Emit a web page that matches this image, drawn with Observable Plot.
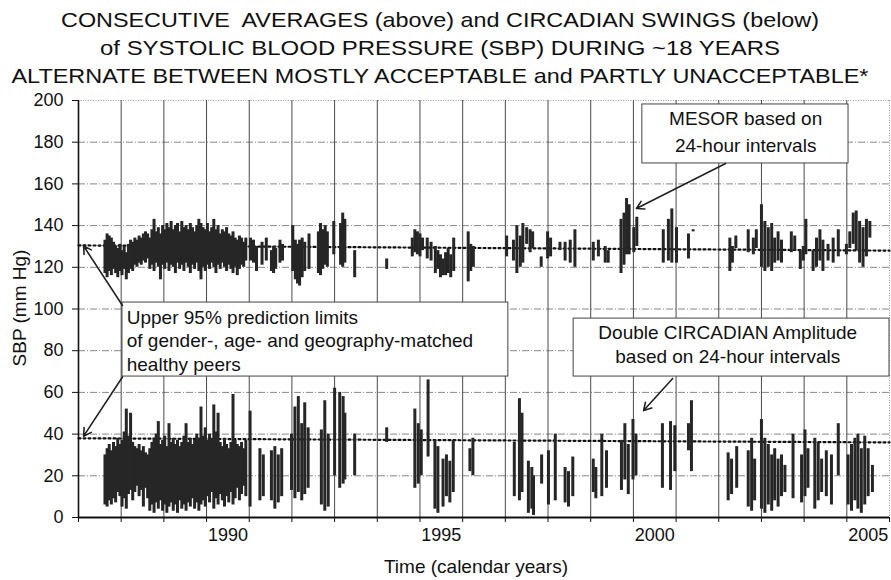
<!DOCTYPE html>
<html><head><meta charset="utf-8">
<script src="https://cdn.jsdelivr.net/npm/d3@7"></script>
<script src="https://cdn.jsdelivr.net/npm/@observablehq/plot@0.6"></script>
<style>body{margin:0;background:#fff;} svg{display:block;}</style>
</head><body><div id="chart"></div>
<script>
// ---------------- DATA ----------------
const titleLines = [
  "CONSECUTIVE  AVERAGES (above) and CIRCADIAN SWINGS (below)",
  "of SYSTOLIC BLOOD PRESSURE (SBP) DURING ~18 YEARS",
  "ALTERNATE BETWEEN MOSTLY ACCEPTABLE and PARTLY UNACCEPTABLE*"
];
const yLabel = "SBP (mm Hg)";
const xLabel = "Time (calendar years)";
const yTicks = [0, 20, 40, 60, 80, 100, 120, 140, 160, 180, 200];
const yearTicks = d3.range(1987, 2007);
const yearLabels = [1990, 1995, 2000, 2005];

// Upper 95% prediction limits (start / end of record)
const limitMesor = [[1987, 130.5], [2006, 128]];
const limitAmp = [[1987, 38], [2006, 36]];

// MESOR (24-h) : [year, low, high]
const mesor = [
 [1987.62,117,133],[1987.67,115,136],[1987.72,118,135],[1987.77,116,134],[1987.82,119,132],
 [1987.87,117,130],[1987.92,115,129],[1987.97,118,131],[1988.02,116,128],[1988.07,119,130],
 [1988.12,114,127],[1988.17,117,131],[1988.22,119,133],[1988.27,118,132],[1988.32,121,134],
 [1988.37,120,133],[1988.42,122,135],[1988.47,121,134],[1988.52,123,136],[1988.57,122,137],
 [1988.62,124,136],[1988.67,119,134],[1988.72,121,138],[1988.77,118,143],[1988.82,122,137],
 [1988.87,120,139],[1988.92,114,136],[1988.97,121,140],[1989.02,119,138],[1989.07,122,141],
 [1989.12,118,139],[1989.17,121,142],[1989.22,120,138],[1989.27,117,140],[1989.32,122,141],
 [1989.37,119,137],[1989.42,121,142],[1989.47,118,139],[1989.52,122,140],[1989.57,120,138],
 [1989.62,117,141],[1989.67,121,139],[1989.72,119,137],[1989.77,122,140],[1989.82,118,143],
 [1989.87,114,141],[1989.92,120,139],[1989.97,118,138],[1990.02,121,141],[1990.07,119,137],
 [1990.12,122,139],[1990.17,120,143],[1990.22,117,138],[1990.27,121,140],[1990.32,119,136],
 [1990.37,122,138],[1990.42,120,137],[1990.47,118,139],[1990.52,121,136],[1990.57,119,135],
 [1990.62,117,137],[1990.67,120,134],[1990.72,116,133],[1990.77,119,135],[1990.82,121,134],
 [1990.87,120,132],[1990.92,123,134],
 [1991.03,123,134],[1991.10,122,133],[1991.17,118,130],[1991.30,121,132],[1991.40,123,134],
 [1991.52,118,128],[1991.57,117,130],[1991.62,119,129],[1991.72,122,133],[1991.78,123,131],
 [1992.02,118,140],[1992.08,114,133],[1992.13,112,131],[1992.18,111,133],[1992.24,115,134],
 [1992.30,118,132],[1992.40,119,136],[1992.62,117,137],[1992.67,116,141],[1992.72,119,138],
 [1992.78,121,140],[1992.83,120,137],[1992.98,126,142],[1993.14,121,141],[1993.19,120,146],
 [1993.24,122,143],[1993.47,115,128],[1994.22,119,124],
 [1994.82,125,134],[1994.88,127,138],[1994.94,126,137],[1995.00,125,136],[1995.06,128,134],
 [1995.17,124,134],[1995.26,123,132],[1995.36,117,130],[1995.42,119,128],[1995.48,115,126],
 [1995.54,116,124],[1995.60,116,127],[1995.66,117,129],[1995.72,115,126],[1995.79,118,134],
 [1996.13,113,137],[1996.19,118,131],[1996.25,120,130],
 [1997.03,125,135],[1997.19,123,133],[1997.27,117,140],[1997.35,120,135],[1997.41,122,141],
 [1997.50,131,139],[1997.58,127,138],[1997.64,129,137],[1997.84,120,125],[1997.99,124,137],
 [1998.06,125,134],[1998.28,128,132],[1998.40,123,132],[1998.52,122,133],[1998.63,120,138],
 [1999.06,123,132],[1999.18,125,133],[1999.34,122,130],[1999.41,122,128],
 [1999.71,117,143],[1999.78,121,146],[1999.84,126,153],[1999.90,126,150],[2000.01,127,139],
 [2000.08,130,144],[2000.70,122,138],[2000.82,123,143],[2000.90,122,148],[2001.01,122,139],
 [2001.29,124,136],[2001.40,137,138],
 [2002.26,118,134],[2002.32,122,130],[2002.40,129,135],[2002.69,127,138],[2002.81,126,134],
 [2002.88,129,138],[2003.00,120,150],[2003.08,118,142],[2003.16,120,139],[2003.24,118,141],
 [2003.31,122,134],[2003.39,123,137],[2003.47,122,133],[2003.70,127,137],[2003.78,128,135],
 [2003.91,119,128],[2003.98,123,130],[2004.04,126,143],[2004.21,118,128],[2004.29,120,134],
 [2004.37,123,138],[2004.44,118,133],[2004.56,123,131],[2004.68,122,134],[2004.80,125,138],
 [2004.99,126,131],[2005.07,129,137],[2005.15,131,146],[2005.22,128,147],[2005.30,122,142],
 [2005.38,120,139],[2005.46,125,143],[2005.54,134,142]
];

// Double circadian amplitude (24-h) : [year, low, high]
const amplitude = [
 [1987.62,6,30],[1987.67,5,33],[1987.72,8,35],[1987.77,6,32],[1987.82,9,36],[1987.87,7,34],
 [1987.92,12,38],[1987.97,10,35],[1988.02,5,37],[1988.07,9,41],[1988.12,4,52],[1988.17,11,39],
 [1988.22,13,50],[1988.27,8,36],[1988.32,12,34],[1988.37,15,33],[1988.42,10,35],[1988.47,13,32],
 [1988.52,5,34],[1988.57,14,31],[1988.62,9,30],[1988.67,3,33],[1988.72,6,36],[1988.77,2,38],
 [1988.82,7,40],[1988.87,4,46],[1988.92,8,35],[1988.97,3,37],[1989.02,6,39],[1989.07,2,34],
 [1989.12,5,45],[1989.17,7,36],[1989.22,3,38],[1989.27,6,35],[1989.32,2,37],[1989.37,8,34],
 [1989.42,4,36],[1989.47,6,39],[1989.52,3,45],[1989.57,7,36],[1989.62,5,38],[1989.67,9,35],
 [1989.72,4,37],[1989.77,7,40],[1989.82,3,38],[1989.87,6,53],[1989.92,8,39],[1989.97,5,43],
 [1990.02,10,37],[1990.07,7,40],[1990.12,12,38],[1990.17,4,54],[1990.22,9,41],[1990.27,6,50],
 [1990.32,11,36],[1990.37,8,34],[1990.42,5,38],[1990.47,10,35],[1990.52,7,33],[1990.57,12,36],
 [1990.62,6,59],[1990.67,9,37],[1990.72,14,35],[1990.77,8,34],[1990.82,11,36],[1990.87,15,33],
 [1990.92,10,37],
 [1991.02,5,51],[1991.25,8,33],[1991.33,10,30],[1991.52,8,32],[1991.60,4,34],[1991.68,7,30],
 [1991.76,10,33],[1991.99,13,40],[1992.07,9,53],[1992.15,12,58],[1992.23,8,45],[1992.30,11,55],
 [1992.38,14,43],[1992.69,6,42],[1992.77,3,56],[1992.85,5,40],[1993.00,20,62],[1993.12,14,60],
 [1993.20,16,58],[1993.24,18,50],[1993.47,20,40],[1994.22,36,43],
 [1994.88,14,52],[1994.96,16,45],[1995.03,20,42],[1995.19,29,66],[1995.35,4,37],[1995.42,2,34],
 [1995.54,5,28],[1995.62,10,30],[1995.70,7,27],[1995.78,12,37],[1996.17,22,33],[1996.24,20,38],
 [1997.21,10,36],[1997.33,8,57],[1997.39,12,50],[1997.54,2,27],[1997.62,4,24],[1997.66,1,20],
 [1997.85,16,30],[1998.01,6,32],[1998.17,8,40],[1998.40,7,24],[1998.48,5,22],[1998.58,10,29],
 [1999.06,12,28],[1999.12,9,24],[1999.26,10,40],[1999.37,14,32],[1999.72,13,37],[1999.80,18,45],
 [1999.88,11,35],[1999.99,18,47],[2000.06,20,40],[2000.68,14,45],[2000.87,13,46],[2000.97,22,44],
 [2001.29,32,45],[2001.36,22,56],
 [2002.22,8,31],[2002.30,11,28],[2002.42,14,34],[2002.69,5,32],[2002.77,3,38],[2002.84,8,28],
 [2003.00,4,47],[2003.08,2,38],[2003.16,6,35],[2003.24,3,30],[2003.31,8,33],[2003.39,5,28],
 [2003.47,10,30],[2003.55,12,25],[2003.74,9,40],[2003.94,7,30],[2004.02,10,42],[2004.09,14,33],
 [2004.25,4,38],[2004.33,8,36],[2004.41,12,28],[2004.52,10,32],[2004.64,6,30],[2004.80,20,45],
 [2005.03,6,30],[2005.11,3,35],[2005.19,8,38],[2005.26,4,40],[2005.34,2,33],[2005.42,6,39],
 [2005.50,10,33],[2005.60,12,25]
];

// Annotation texts
const mesorNote = ["MESOR based on", "24-hour intervals"];
const limitNote = ["Upper 95% prediction limits", "of gender-, age- and geography-matched", "healthy peers"];
const ampNote = ["Double CIRCADIAN Amplitude", "based on 24-hour intervals"];

// Annotation placement (data units: year, mm Hg)
const notes = {
  mesorBox: {x1: 2000.21, x2: 2005.04, y1: 169.8, y2: 198.1, tx: 2002.63, ty: [191.4, 178.4]},
  mesorArrow: [{x1: 2002.16, y1: 169.8, x2: 2000.07, y2: 148.2}],
  limitBox: {x1: 1988.03, x2: 1997.07, y1: 67.6, y2: 103.1, tx: 1988.13, ty: [95.9, 84.5, 73.3]},
  limitArrows: [
    {x1: 1988.03, y1: 101.7, x2: 1987.12, y2: 130.2},
    {x1: 1988.03, y1: 67.4, x2: 1987.12, y2: 39.0}
  ],
  ampBox: {x1: 1998.6, x2: 2006, y1: 67.6, y2: 95.4, tx: 2002.21, ty: [88.7, 77.2]},
  ampArrow: [{x1: 2000.92, y1: 66.7, x2: 2000.24, y2: 51.3}]
};

// ---------------- CHART ----------------
const FONT = "'Liberation Sans', Arial, Helvetica, sans-serif";
const W = 891, H = 580;
const box = b => Plot.rect([b], {x1: "x1", x2: "x2", y1: "y1", y2: "y2", fill: "white", stroke: "#444", strokeWidth: 1});
const boxText = (lines, b, anchor) => Plot.text(lines.map((t, i) => ({t, x: b.tx, y: b.ty[i]})),
  {x: "x", y: "y", text: "t", textAnchor: anchor, fontSize: 19, fill: "#111"});
const arrows = a => Plot.arrow(a, {x1: "x1", y1: "y1", x2: "x2", y2: "y2", stroke: "#222", strokeWidth: 1.6, headLength: 8});

const chart = Plot.plot({
  width: W, height: H,
  marginTop: 100, marginBottom: 63, marginLeft: 78, marginRight: 2,
  style: {fontFamily: FONT, fontSize: "18px", color: "#111", background: "white", overflow: "visible"},
  x: {domain: [1987, 2006], axis: null},
  y: {domain: [0, 200], axis: null},
  marks: [
    Plot.ruleY(yTicks.filter(d => d > 0 && d < 200), {stroke: "#888", strokeWidth: 1, strokeDasharray: "7,2,1,2"}),
    Plot.ruleY([200], {stroke: "#999", strokeWidth: 1, strokeDasharray: "1,1.5"}),
    Plot.ruleX(yearTicks.filter(d => d > 1987 && d < 2006), {stroke: "#4a4a4a", strokeWidth: 1}),
    Plot.ruleX([2006], {stroke: "#999", strokeWidth: 1, strokeDasharray: "1,1.5"}),
    Plot.line(limitMesor, {x: d => d[0], y: d => d[1], stroke: "#111", strokeWidth: 2.2, strokeDasharray: "2,3"}),
    Plot.line(limitAmp, {x: d => d[0], y: d => d[1], stroke: "#111", strokeWidth: 2.2, strokeDasharray: "2,3"}),
    Plot.ruleX(mesor, {x: d => d[0], y1: d => d[1], y2: d => d[2], stroke: "#262626", strokeWidth: 3}),
    Plot.ruleX(amplitude, {x: d => d[0], y1: d => d[1], y2: d => d[2], stroke: "#262626", strokeWidth: 3}),
    box(notes.mesorBox), boxText(mesorNote, notes.mesorBox, "middle"),
    arrows(notes.mesorArrow),
    box(notes.limitBox), boxText(limitNote, notes.limitBox, "start"),
    arrows(notes.limitArrows),
    box(notes.ampBox), boxText(ampNote, notes.ampBox, "middle"),
    arrows(notes.ampArrow),
    Plot.ruleX([1987], {stroke: "#111", strokeWidth: 1.6}),
    Plot.ruleY([0], {stroke: "#111", strokeWidth: 2}),
    Plot.axisY({ticks: yTicks, tickSize: 6, tickPadding: 9, fontSize: 18, label: null, tickFormat: d => String(d), stroke: "#111"}),
    Plot.axisX({ticks: yearTicks, tickSize: 5, label: null, tickFormat: () => "", stroke: "#111"}),
    Plot.axisX({ticks: yearLabels.map(y => y + 0.5), tickSize: 0, tickPadding: 11, fontSize: 18, label: null, tickFormat: d => String(Math.floor(d))})
  ]
});
document.getElementById("chart").appendChild(chart);

const svg = d3.select(chart);
const titleY = [19, 47, 75];
const titleLen = [758, 680, 857];
titleLines.forEach((t, i) => {
  svg.append("text").attr("x", 440).attr("y", titleY[i]).attr("text-anchor", "middle")
    .attr("dominant-baseline", "central").attr("font-family", FONT).attr("font-size", 21)
    .attr("fill", "#111").attr("textLength", titleLen[i]).attr("lengthAdjust", "spacingAndGlyphs").text(t);
});
svg.append("text").attr("transform", "translate(19,308) rotate(-90)").attr("text-anchor", "middle")
  .attr("dominant-baseline", "central").attr("font-family", FONT).attr("font-size", 19).attr("fill", "#111").text(yLabel);
svg.append("text").attr("x", 476).attr("y", 566).attr("text-anchor", "middle")
  .attr("dominant-baseline", "central").attr("font-family", FONT).attr("font-size", 19).attr("fill", "#111").text(xLabel);
</script></body></html>
